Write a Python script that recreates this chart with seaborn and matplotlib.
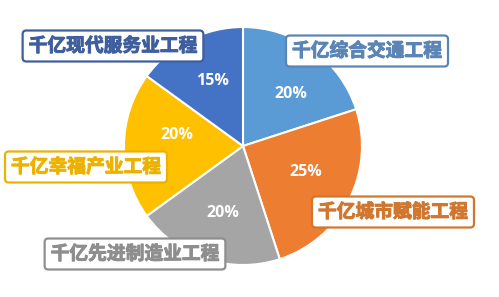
import matplotlib
matplotlib.use("Agg")
import matplotlib.pyplot as plt
import matplotlib.patheffects as pe
import seaborn as sns

categories = ["千亿综合交通工程", "千亿城市赋能工程", "千亿先进制造业工程", "千亿幸福产业工程", "千亿现代服务业工程"]
shares = [20, 25, 20, 20, 15]
slice_colors = ["#5B9BD5", "#ED7D31", "#A5A5A5", "#FFC000", "#4472C4"]
label_colors = ["#5A85B5", "#D0762F", "#8E8E8E", "#EDB100", "#3F5E9E"]
# label box centres (pixel coordinates, y from top)
label_pos = [(367, 51), (393, 212), (135, 254), (86, 167), (113, 46)]
# percentage label centres (pixel coordinates, y from top)
pct_pos = [(291, 94), (306, 172), (223, 213), (177, 135), (212, 81)]

sns.set_theme(style="white")
plt.rcParams["font.family"] = ["Noto Sans CJK SC", "DejaVu Sans"]

W, H = 499, 297
fig = plt.figure(figsize=(W / 100, H / 100), dpi=100)
ax = fig.add_axes([0, 0, 1, 1])

cx, cy, r = 243, H - 146, 119
wedges, texts, autotexts = ax.pie(
    shares,
    colors=sns.color_palette(slice_colors),
    startangle=90,
    counterclock=False,
    center=(cx, cy),
    radius=r,
    autopct=lambda p: f"{p:.0f}%",
    pctdistance=0.62,
    wedgeprops=dict(edgecolor="white", linewidth=1.5),
    textprops=dict(color="white", fontsize=11.5, fontweight="bold", family=["Open Sans", "DejaVu Sans"]),
    frame=True,
)
for t, (x, y) in zip(autotexts, pct_pos):
    t.set_position((x, H - y))
    t.set_ha("center")
    t.set_va("center")

ax.set_xlim(0, W)
ax.set_ylim(0, H)
ax.set_aspect("equal")
ax.axis("off")

for name, col, (x, y) in zip(categories, label_colors, label_pos):
    ax.text(x, H - y, name, ha="center", va="center", color=col,
            fontsize=13.5, fontweight="bold",
            path_effects=[pe.withStroke(linewidth=0.7, foreground=col)],
            bbox=dict(boxstyle="round,pad=0.32,rounding_size=0.2", facecolor="white",
                      edgecolor=col, linewidth=1.6))

fig.savefig("out.png", dpi=100)
